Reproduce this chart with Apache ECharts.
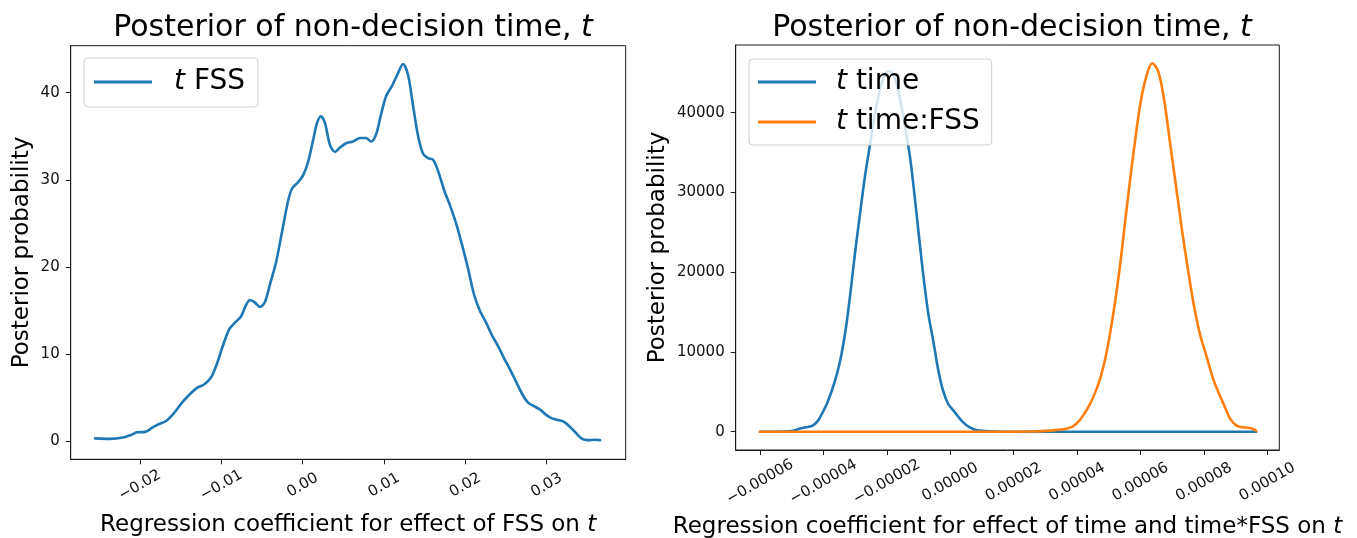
<!DOCTYPE html>
<html>
<head>
<meta charset="utf-8">
<script src="https://cdn.jsdelivr.net/npm/echarts@6/dist/echarts.min.js"></script>
<style>
html,body{margin:0;padding:0;background:#fff;}
#chart{width:1357px;height:538px;}
</style>
</head>
<body>
<div id="chart"></div>
<script>
// ---------- DATA ----------
const titleText = 'Posterior of non-decision time, ';
const yAxisName = 'Posterior probability';
const leftXName = 'Regression coefficient for effect of FSS on ';
const rightXName = 'Regression coefficient for effect of time and time*FSS on ';

const leftXTicks = [-0.02, -0.01, 0.00, 0.01, 0.02, 0.03];
const leftYTicks = [0, 10, 20, 30, 40];
const rightXTicks = [-6e-5, -4e-5, -2e-5, 0, 2e-5, 4e-5, 6e-5, 8e-5, 10e-5];
const rightYTicks = [0, 10000, 20000, 30000, 40000];

const leftSeriesName = 't FSS';
const leftX = [-0.02553,-0.02369,-0.02209,-0.02111,-0.02037,-0.01939,-0.01853,-0.01779,-0.01680,-0.01582,
  -0.01484,-0.01385,-0.01299,-0.01213,-0.01127,-0.01053,-0.00979,-0.00905,-0.00832,-0.00758,
  -0.00697,-0.00648,-0.00586,-0.00525,-0.00463,-0.00402,-0.00328,-0.00254,-0.00181,-0.00131,
  -0.00058,0.00004,0.00065,0.00127,0.00176,0.00225,0.00274,0.00336,0.00398,0.00459,
  0.00533,0.00619,0.00705,0.00779,0.00840,0.00902,0.00963,0.01025,0.01099,0.01160,
  0.01234,0.01296,0.01357,0.01419,0.01480,0.01542,0.01603,0.01665,0.01739,0.01813,
  0.01886,0.01960,0.02033,0.02107,0.02181,0.02255,0.02329,0.02402,0.02476,0.02550,
  0.02624,0.02698,0.02771,0.02845,0.02919,0.02993,0.03066,0.03140,0.03214,0.03288,
  0.03361,0.03435,0.03509,0.03583,0.03656];
const leftY = [0.3,0.25,0.4,0.7,1.0,1.05,1.5,1.9,2.3,3.2,
  4.4,5.4,6.1,6.5,7.3,8.9,11.0,12.8,13.6,14.3,
  15.6,16.2,15.9,15.4,16.0,18.0,20.5,24.0,27.5,29.0,
  29.7,30.5,32.0,34.5,36.5,37.3,36.5,34.0,33.2,33.7,
  34.2,34.4,34.8,34.8,34.4,35.2,37.5,39.6,40.8,42.0,
  43.3,42.0,38.5,35.0,33.0,32.5,32.3,31.0,28.8,27.0,
  25.0,22.5,19.8,16.8,14.9,13.6,12.1,10.9,9.5,8.2,
  6.8,5.4,4.4,4.0,3.6,3.0,2.6,2.4,2.2,1.6,
  0.9,0.25,0.1,0.15,0.1];

const timeName = 't time';
const timeX = [-6.00e-5,-5.50e-5,-5.20e-5,-5.00e-5,-4.85e-5,-4.74e-5,-4.60e-5,-4.49e-5,-4.35e-5,-4.26e-5,
  -4.15e-5,-4.04e-5,-3.89e-5,-3.73e-5,-3.57e-5,-3.44e-5,-3.29e-5,-3.16e-5,-3.00e-5,-2.84e-5,
  -2.69e-5,-2.53e-5,-2.37e-5,-2.21e-5,-2.06e-5,-1.93e-5,-1.80e-5,-1.65e-5,-1.46e-5,-1.27e-5,
  -1.08e-5,-0.89e-5,-0.70e-5,-0.54e-5,-0.39e-5,-0.23e-5,-0.07e-5,0.09e-5,0.25e-5,0.40e-5,
  0.59e-5,0.78e-5,1.03e-5,1.41e-5,1.89e-5,3.00e-5,5.00e-5,7.00e-5,9.00e-5,9.65e-5];
const timeY = [0,0,20,80,250,400,520,600,750,1000,
  1500,2300,3500,5200,7300,9500,13000,17000,22500,27500,
  32000,36000,40000,43000,44800,45200,44800,43000,39000,34500,
  28000,21000,15000,11500,8000,5200,3500,2700,1900,1200,
  600,250,100,30,0,0,0,0,0,0];

const timeFssName = 't time:FSS';
const timeFssX = [-6.00e-5,-3.00e-5,0,1.50e-5,2.50e-5,3.00e-5,3.31e-5,3.62e-5,3.84e-5,4.03e-5,
  4.22e-5,4.41e-5,4.57e-5,4.73e-5,4.88e-5,5.04e-5,5.20e-5,5.36e-5,5.52e-5,5.67e-5,
  5.83e-5,5.99e-5,6.18e-5,6.37e-5,6.56e-5,6.75e-5,6.94e-5,7.13e-5,7.32e-5,7.51e-5,
  7.70e-5,7.89e-5,8.08e-5,8.26e-5,8.45e-5,8.64e-5,8.83e-5,9.02e-5,9.21e-5,9.40e-5,
  9.55e-5,9.65e-5];
const timeFssY = [0,0,0,0,20,100,200,350,600,1200,
  2200,3500,4900,6700,9000,12300,16300,21000,26500,31500,
  36500,41000,44500,46200,45200,41500,36000,30500,25000,20000,
  15500,12000,9500,7000,5000,3300,1600,800,550,500,
  350,100];

// ---------- STYLE ----------
const FONT = 'DejaVu Sans';
const BLUE = '#1f77b4', ORANGE = '#ff7f0e', AXIS = '#1a1a1a';
const zip = (xs, ys) => xs.map((x, i) => [x, ys[i]]);
const minus = s => s.replace('-', '\u2212');

function xAxisCfg(gridIndex, min, max, ticks, digits, name, nameGap, labelMargin) {
  return {
    type: 'value', gridIndex, min, max,
    name: '{a|' + name + '}{i|t}', nameLocation: 'middle', nameGap,
    nameTextStyle: { rich: {
      a: { fontFamily: FONT, fontSize: 23, color: '#000' },
      i: { fontFamily: FONT, fontSize: 23, color: '#000', fontStyle: 'italic' } } },
    axisLine: { show: true, onZero: false, lineStyle: { color: AXIS, width: 1 } },
    axisTick: { show: true, inside: false, length: 5, lineStyle: { color: AXIS }, customValues: ticks },
    axisLabel: { show: true, rotate: 30, align: 'center', verticalAlign: 'middle', margin: labelMargin,
      fontFamily: FONT, fontSize: 15, color: '#111', customValues: ticks,
      formatter: v => minus(v.toFixed(digits)) },
    splitLine: { show: false }
  };
}
function yAxisCfg(gridIndex, min, max, ticks, nameGap) {
  return {
    type: 'value', gridIndex, min, max,
    name: yAxisName, nameLocation: 'middle', nameGap,
    nameTextStyle: { fontFamily: FONT, fontSize: 23, color: '#000' },
    axisLine: { show: true, onZero: false, lineStyle: { color: AXIS, width: 1 } },
    axisTick: { show: true, inside: false, length: 5, lineStyle: { color: AXIS }, customValues: ticks },
    axisLabel: { show: true, margin: 11, fontFamily: FONT, fontSize: 15, color: '#111', customValues: ticks,
      formatter: v => String(Math.round(v)) },
    splitLine: { show: false }
  };
}
function legendCfg(left, top, names, padding, textPad) {
  return {
    orient: 'vertical', left, top, data: names,
    icon: 'rect', itemWidth: 58, itemHeight: 3, itemGap: 10,
    padding, backgroundColor: 'rgba(255,255,255,0.8)',
    borderColor: '#cfcfcf', borderWidth: 1, borderRadius: 4,
    formatter: n => '{i|t}{a|' + n.slice(1) + '}',
    textStyle: { padding: [0, 0, 0, textPad], lineHeight: 30, rich: {
      i: { fontFamily: FONT, fontSize: 28, fontStyle: 'italic', color: '#000', lineHeight: 30 },
      a: { fontFamily: FONT, fontSize: 28, color: '#000', lineHeight: 30 } } }
  };
}
function lineSeries(name, color, xi, yi, data) {
  return { type: 'line', name, xAxisIndex: xi, yAxisIndex: yi, data,
    showSymbol: false, symbol: 'none', smooth: 0.3,
    lineStyle: { color, width: 2.6, join: 'round', cap: 'round' }, itemStyle: { color }, z: 2 };
}
const titleRich = {
  a: { fontFamily: FONT, fontSize: 30, color: '#000', fontWeight: 'normal' },
  i: { fontFamily: FONT, fontSize: 30, color: '#000', fontStyle: 'italic', fontWeight: 'normal' }
};

const option = {
  animation: false,
  backgroundColor: '#fff',
  title: [
    { text: '{a|' + titleText + '}{i|t}', left: 348, top: 8, textAlign: 'center',
      textStyle: { fontWeight: 'normal', rich: titleRich } },
    { text: '{a|' + titleText + '}{i|t}', left: 1007, top: 8, textAlign: 'center',
      textStyle: { fontWeight: 'normal', rich: titleRich } }
  ],
  grid: [
    { left: 70.7, top: 45.7, width: 555, height: 413.6, show: true, borderColor: AXIS, borderWidth: 1,
      backgroundColor: 'transparent', containLabel: false, outerBoundsMode: 'none' },
    { left: 735.7, top: 45, width: 543.6, height: 405, show: true, borderColor: AXIS, borderWidth: 1,
      backgroundColor: 'transparent', containLabel: false, outerBoundsMode: 'none' }
  ],
  xAxis: [
    xAxisCfg(0, -0.02852, 0.03971, leftXTicks, 2, leftXName, 54, 26),
    xAxisCfg(1, -6.766e-5, 10.378e-5, rightXTicks, 5, rightXName, 66, 32)
  ],
  yAxis: [
    yAxisCfg(0, -2.1, 45.4, leftYTicks, 37),
    yAxisCfg(1, -2295, 48489, rightYTicks, 66)
  ],
  legend: [
    legendCfg(84, 58, [leftSeriesName], [9, 13, 10, 10], 17),
    legendCfg(749, 59, [timeName, timeFssName], [8, 12, 8, 9], 15)
  ],
  series: [
    lineSeries(leftSeriesName, BLUE, 0, 0, zip(leftX, leftY)),
    lineSeries(timeName, BLUE, 1, 1, zip(timeX, timeY)),
    lineSeries(timeFssName, ORANGE, 1, 1, zip(timeFssX, timeFssY))
  ]
};

const chart = echarts.init(document.getElementById('chart'), null, { renderer: 'canvas' });
chart.setOption(option);
</script>
</body>
</html>
